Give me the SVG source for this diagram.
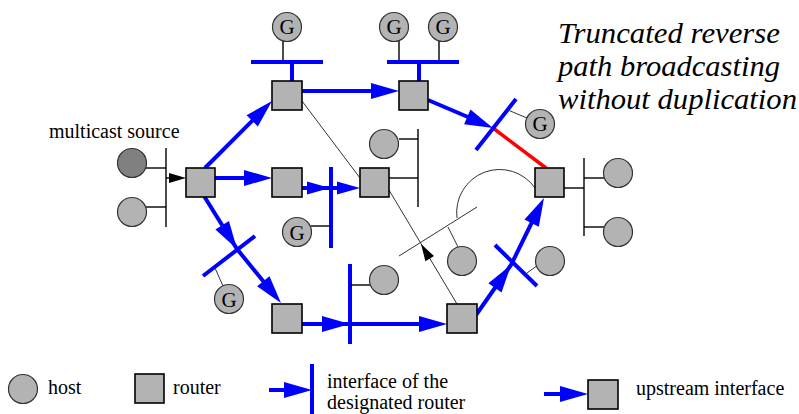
<svg xmlns="http://www.w3.org/2000/svg" width="799" height="414" viewBox="0 0 799 414" font-family="'Liberation Serif','Times New Roman',serif">
<style>
text{font-family:"Liberation Serif","Times New Roman",serif;font-size:20px;fill:#000}
.title{font-style:italic;font-size:29px}
.g{text-anchor:middle;font-size:21px}
.host{fill:#b3b3b3;stroke:#333;stroke-width:1.2}
.src{fill:#808080;stroke:#333;stroke-width:1.2}
.router{fill:#b3b3b3;stroke:#000;stroke-width:1.6}
.lan{stroke:#000;stroke-width:1.4;fill:none}
.thin{stroke:#333;stroke-width:1;fill:none}
.blue{stroke:#0000ff;stroke-width:4;fill:none}
.red{stroke:#ff0000;stroke-width:3.5;fill:none}
.ah{fill:#0000ff}
.bk{fill:#000}
</style>
<defs>
<path id="ah" d="M0,0 L-28,-8 L-28,8 Z"/>
<path id="ahs" d="M0,0 L-23,-6.5 L-23,6.5 Z"/>
<path id="bah" d="M0,0 L-17,-5 L-17,5 Z"/>
</defs>

<g id="connectors">
  <!-- source LAN -->
  <line class="lan" x1="166" y1="148" x2="166" y2="227"/>
  <line class="lan" x1="146" y1="168" x2="166" y2="168"/>
  <line class="lan" x1="146" y1="207" x2="166" y2="207"/>
  <line class="lan" x1="166" y1="178" x2="172" y2="178"/>
  <use href="#bah" class="bk" transform="translate(186,178)"/>

  <!-- top LAN bars -->
  <line class="lan" x1="283" y1="41" x2="283" y2="62"/>
  <line class="blue" x1="251" y1="62" x2="323" y2="62"/>
  <line class="blue" x1="292" y1="62" x2="292" y2="82"/>
  <line class="lan" x1="399" y1="41" x2="399" y2="62"/>
  <line class="lan" x1="439" y1="41" x2="439" y2="62"/>
  <line class="blue" x1="387" y1="62" x2="459" y2="62"/>
  <line class="blue" x1="419" y1="62" x2="419" y2="82"/>

  <!-- thin lines -->
  <line class="thin" x1="302" y1="101" x2="360" y2="178"/>
  <line class="thin" x1="389" y1="190" x2="457" y2="304"/>
  <use href="#bah" class="bk" transform="translate(421,244) rotate(-120.8)"/>
  <line class="thin" x1="399" y1="256" x2="477" y2="207"/>
  <line class="thin" x1="448" y1="227" x2="458" y2="247"/>
  <path class="thin" d="M457,218 A43,43 0 0 1 535,188"/>

  <!-- mid2 LAN -->
  <line class="lan" x1="418" y1="129" x2="418" y2="207"/>
  <line class="lan" x1="399" y1="139" x2="418" y2="139"/>
  <line class="lan" x1="389" y1="178" x2="418" y2="178"/>

  <!-- right LAN -->
  <line class="lan" x1="584" y1="158" x2="584" y2="236"/>
  <line class="lan" x1="564" y1="188" x2="584" y2="188"/>
  <line class="lan" x1="584" y1="178" x2="604" y2="178"/>
  <line class="lan" x1="584" y1="227" x2="604" y2="227"/>

  <!-- source -> top1 -->
  <line class="blue" x1="205" y1="168" x2="258" y2="115"/>
  <use href="#ah" class="ah" transform="translate(272,101) rotate(-45)"/>
  <!-- top1 -> top2 -->
  <line class="blue" x1="302" y1="91" x2="380" y2="91"/>
  <use href="#ah" class="ah" transform="translate(399,91)"/>
  <!-- source -> mid1 -->
  <line class="blue" x1="214" y1="178" x2="253" y2="178"/>
  <use href="#ah" class="ah" transform="translate(272,178)"/>
  <!-- mid1 -> mid2 -->
  <line class="blue" x1="302" y1="188" x2="346" y2="188"/>
  <use href="#ahs" class="ah" transform="translate(330,188)"/>
  <use href="#ahs" class="ah" transform="translate(360,188)"/>
  <line class="blue" x1="331" y1="167" x2="331" y2="248"/>
  <line class="lan" x1="311" y1="226" x2="331" y2="226"/>

  <!-- top2 -> cross -> right (truncated) -->
  <line class="blue" x1="428" y1="100" x2="475" y2="120"/>
  <use href="#ah" class="ah" transform="translate(493,128) rotate(23.3)"/>
  <line class="red" x1="493" y1="128" x2="546" y2="168"/>
  <line class="blue" x1="476" y1="150" x2="516" y2="99"/>
  <line class="thin" x1="508" y1="110" x2="527" y2="118"/>

  <!-- source -> bot1 -->
  <polyline class="blue" points="204,196 237,249 268,287"/>
  <use href="#ah" class="ah" transform="translate(237,249) rotate(58)"/>
  <use href="#ah" class="ah" transform="translate(281,303) rotate(50.8)"/>
  <line class="blue" x1="203" y1="276" x2="255" y2="236"/>
  <line class="thin" x1="215" y1="268" x2="223" y2="286"/>

  <!-- bot1 -> bot2 -->
  <line class="blue" x1="302" y1="324" x2="428" y2="324"/>
  <use href="#ah" class="ah" transform="translate(350,324)"/>
  <use href="#ah" class="ah" transform="translate(447,324)"/>
  <line class="blue" x1="350" y1="264" x2="350" y2="344"/>
  <line class="lan" x1="350" y1="285" x2="370" y2="285"/>

  <!-- bot2 -> right -->
  <polyline class="blue" points="476,315 511,265 535,216"/>
  <use href="#ah" class="ah" transform="translate(511,265) rotate(-55)"/>
  <use href="#ah" class="ah" transform="translate(544,198) rotate(-63.8)"/>
  <line class="blue" x1="495" y1="245" x2="537" y2="286"/>
  <line class="thin" x1="527" y1="273" x2="538" y2="265"/>
</g>

<g id="host-source"><circle class="src" cx="132" cy="163" r="14.5"/></g>
<g id="host-src2"><circle class="host" cx="132" cy="212" r="14.5"/></g>
<g id="host-g1"><circle class="host" cx="287" cy="27" r="14.5"/><text class="g" x="287" y="34">G</text></g>
<g id="host-g2"><circle class="host" cx="394" cy="27" r="14.5"/><text class="g" x="394" y="34">G</text></g>
<g id="host-g3"><circle class="host" cx="443" cy="27" r="14.5"/><text class="g" x="443" y="34">G</text></g>
<g id="host-g4"><circle class="host" cx="540" cy="124" r="14.5"/><text class="g" x="540" y="131">G</text></g>
<g id="host-g5"><circle class="host" cx="297" cy="232" r="14.5"/><text class="g" x="297" y="240">G</text></g>
<g id="host-g6"><circle class="host" cx="229" cy="299" r="14.5"/><text class="g" x="229" y="307">G</text></g>
<g id="host-mid2"><circle class="host" cx="384" cy="144" r="14.5"/></g>
<g id="host-r1"><circle class="host" cx="618" cy="173" r="14.5"/></g>
<g id="host-r2"><circle class="host" cx="618" cy="232" r="14.5"/></g>
<g id="host-c"><circle class="host" cx="462" cy="261" r="14.5"/></g>
<g id="host-b"><circle class="host" cx="384" cy="280" r="14.5"/></g>
<g id="host-br"><circle class="host" cx="550" cy="261" r="14.5"/></g>

<g id="router-src"><rect class="router" x="186" y="168" width="29" height="29"/></g>
<g id="router-top1"><rect class="router" x="272" y="81" width="30" height="29"/></g>
<g id="router-top2"><rect class="router" x="399" y="81" width="29" height="29"/></g>
<g id="router-mid1"><rect class="router" x="272" y="168" width="30" height="29"/></g>
<g id="router-mid2"><rect class="router" x="360" y="168" width="29" height="29"/></g>
<g id="router-right"><rect class="router" x="535" y="168" width="29" height="29"/></g>
<g id="router-bot1"><rect class="router" x="272" y="304" width="30" height="29"/></g>
<g id="router-bot2"><rect class="router" x="447" y="304" width="30" height="29"/></g>

<g id="labels">
  <text x="49" y="138">multicast source</text>
  <text class="title" x="558" y="43" textLength="222" lengthAdjust="spacingAndGlyphs">Truncated reverse</text>
  <text class="title" x="558" y="76" textLength="222" lengthAdjust="spacingAndGlyphs">path broadcasting</text>
  <text class="title" x="558" y="109" textLength="239" lengthAdjust="spacingAndGlyphs">without duplication</text>
</g>

<g id="legend">
  <circle class="host" cx="23" cy="389" r="14.5"/>
  <text x="48" y="394">host</text>
  <rect class="router" x="135" y="374" width="29" height="29"/>
  <text x="173" y="394">router</text>
  <line class="blue" x1="269" y1="390" x2="292" y2="390"/>
  <use href="#ah" class="ah" transform="translate(312,390)"/>
  <line class="blue" x1="312" y1="364" x2="312" y2="416"/>
  <text x="327" y="388">interface of the</text>
  <text x="327" y="409">designated router</text>
  <line class="blue" x1="544" y1="394" x2="568" y2="394"/>
  <use href="#ah" class="ah" transform="translate(588,394)"/>
  <rect class="router" x="588" y="380" width="30" height="29"/>
  <text x="636" y="395">upstream interface</text>
</g>
</svg>
